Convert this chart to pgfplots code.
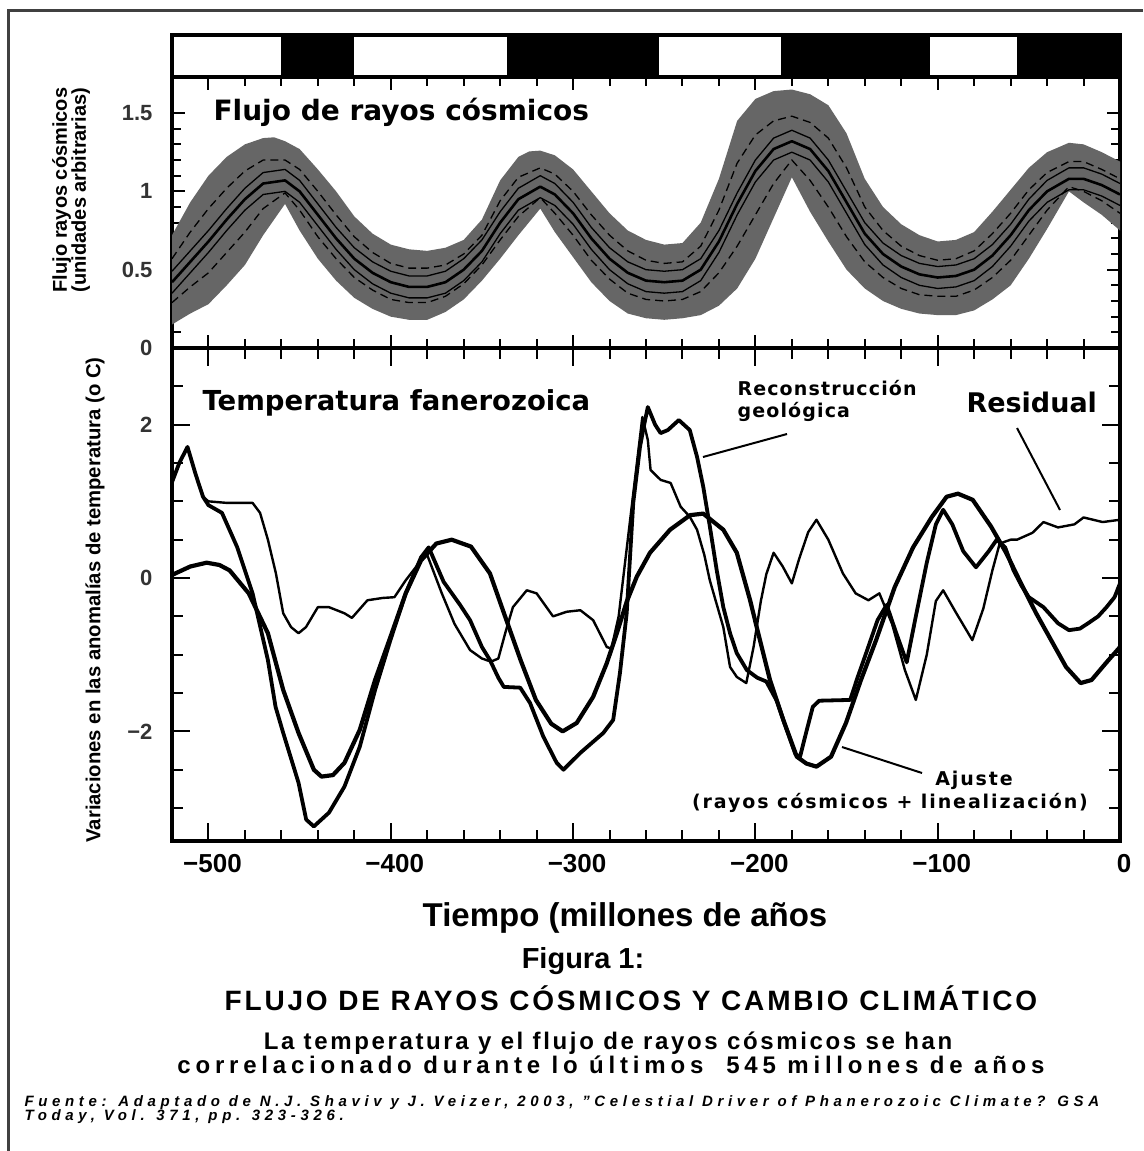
\documentclass[border=0pt]{standalone}
\usepackage{pgfplots}
\pgfplotsset{compat=1.18}
\usepackage{pgfplotstable}
\usepackage{graphicx}
\usepackage{fontspec}
\setmainfont{Liberation Sans}
\newfontfamily\dv{DejaVu Sans}

\pgfplotstableread{
t c c1 c2 d1 d2
-520 0.42 0.49 0.35 0.57 0.29
-510 0.55 0.62 0.48 0.74 0.39
-500 0.68 0.75 0.61 0.89 0.48
-490 0.82 0.89 0.75 1.02 0.61
-480 0.95 1.02 0.88 1.13 0.74
-470 1.05 1.12 0.98 1.20 0.89
-458 1.07 1.14 1.00 1.20 0.99
-450 1.00 1.07 0.93 1.14 0.88
-440 0.85 0.92 0.78 1.00 0.71
-430 0.70 0.77 0.63 0.85 0.57
-420 0.57 0.64 0.50 0.71 0.45
-410 0.48 0.55 0.41 0.61 0.37
-400 0.42 0.49 0.35 0.54 0.31
-390 0.39 0.46 0.32 0.51 0.29
-380 0.39 0.46 0.32 0.51 0.29
-370 0.42 0.49 0.35 0.53 0.33
-360 0.50 0.57 0.43 0.60 0.41
-350 0.62 0.69 0.55 0.72 0.53
-340 0.80 0.87 0.73 0.94 0.69
-330 0.95 1.02 0.88 1.09 0.84
-318 1.03 1.10 0.96 1.15 0.96
-310 0.98 1.05 0.91 1.11 0.86
-300 0.86 0.93 0.79 1.00 0.72
-290 0.70 0.77 0.63 0.85 0.56
-280 0.57 0.64 0.50 0.72 0.44
-270 0.48 0.55 0.41 0.62 0.35
-260 0.43 0.50 0.36 0.56 0.31
-250 0.42 0.49 0.35 0.54 0.30
-240 0.43 0.50 0.36 0.55 0.31
-230 0.50 0.57 0.43 0.65 0.36
-220 0.68 0.75 0.61 0.88 0.48
-210 0.92 0.99 0.85 1.18 0.65
-200 1.13 1.20 1.06 1.36 0.85
-190 1.27 1.34 1.20 1.45 1.05
-180 1.32 1.39 1.25 1.48 1.20
-170 1.27 1.34 1.20 1.44 1.07
-160 1.13 1.20 1.06 1.34 0.90
-150 0.93 1.00 0.86 1.15 0.71
-140 0.73 0.80 0.66 0.90 0.55
-130 0.60 0.67 0.53 0.75 0.45
-120 0.52 0.59 0.45 0.65 0.38
-110 0.47 0.54 0.40 0.59 0.34
-100 0.45 0.52 0.38 0.56 0.33
-90 0.46 0.53 0.39 0.57 0.33
-80 0.50 0.57 0.43 0.62 0.37
-70 0.59 0.66 0.52 0.73 0.45
-60 0.72 0.79 0.65 0.86 0.56
-50 0.88 0.95 0.81 1.01 0.72
-40 1.00 1.07 0.93 1.12 0.88
-28 1.08 1.15 1.01 1.19 1.03
-20 1.08 1.15 1.01 1.19 1.00
-10 1.04 1.11 0.97 1.14 0.94
0 0.98 1.05 0.91 1.08 0.86
}\band

\pgfplotsset{
  panel/.style={scale only axis, width=948pt, xmin=-520, xmax=0,
    axis line style={line width=3.5pt},
    every tick/.style={black, line width=2pt},
    tick align=inside,
    xtick={-500,-400,-300,-200,-100,0}, minor x tick num=4,
    /pgf/number format/assume math mode=true,
    yticklabel style={font=\fontsize{22}{22}\selectfont\bfseries, text=black!80, xshift=-16pt}},
}

\begin{document}
\begin{tikzpicture}
\fill[white] (0,0) rectangle (1143pt,-1151pt);
\draw[black!75, line width=3pt] (8pt,-1151pt) -- (8pt,-10pt) -- (1143pt,-10pt);

% band of black/white periods
\begin{axis}[at={(172pt,-35pt)}, anchor=north west, scale only axis,
  width=948pt, height=42pt, xmin=-520, xmax=0, ymin=0, ymax=1,
  ticks=none, axis line style={line width=3.5pt}]
\addplot[fill=black, draw=none] coordinates {(-460.2,1) (-420.2,1)} \closedcycle;
\addplot[fill=black, draw=none] coordinates {(-336.2,1) (-253.1,1)} \closedcycle;
\addplot[fill=black, draw=none] coordinates {(-186.2,1) (-104.2,1)} \closedcycle;
\addplot[fill=black, draw=none] coordinates {(-56.5,1) (0,1)} \closedcycle;
\end{axis}

% cosmic ray flux
\begin{axis}[panel, at={(172pt,-77pt)}, anchor=north west, height=271pt,
  ymin=0, ymax=1.73, ytick={0,0.5,1,1.5}, yticklabels={0,0.5,1,1.5},
  minor y tick num=4, yticklabel pos=left, xticklabels={},
  major tick length=13pt, minor tick length=9pt]
% uncertainty band: upper edge, then lower edge back
\addplot[fill=black!60, draw=none] coordinates {
(-520,0.72) (-510,0.93) (-500,1.10) (-490,1.22) (-480,1.30) (-470,1.34) (-464,1.345) (-458,1.32)
(-450,1.27) (-440,1.14) (-430,1.00) (-420,0.84) (-410,0.73) (-400,0.66) (-390,0.63)
(-380,0.62) (-370,0.64) (-360,0.69) (-350,0.82) (-340,1.07) (-330,1.22) (-324,1.255) (-318,1.26)
(-310,1.23) (-300,1.14) (-290,1.00) (-280,0.86) (-270,0.75) (-260,0.69) (-250,0.66)
(-240,0.67) (-230,0.80) (-220,1.08) (-210,1.45) (-200,1.59) (-190,1.64) (-180,1.65)
(-170,1.62) (-160,1.55) (-150,1.37) (-140,1.08) (-130,0.90) (-120,0.79) (-110,0.72)
(-100,0.68) (-90,0.69) (-80,0.74) (-70,0.87) (-60,1.01) (-50,1.15) (-40,1.25)
(-28,1.31) (-20,1.30) (-10,1.25) (0,1.19)
(0,0.75) (-10,0.85) (-20,0.93) (-28,1.00) (-40,0.76) (-50,0.57) (-60,0.40) (-70,0.31)
(-80,0.24) (-90,0.21) (-100,0.21) (-110,0.22) (-120,0.25) (-130,0.30) (-140,0.38)
(-150,0.50) (-160,0.68) (-170,0.87) (-180,1.09) (-190,0.83) (-200,0.57) (-210,0.38)
(-220,0.27) (-230,0.21) (-240,0.19) (-250,0.18) (-260,0.19) (-270,0.22) (-280,0.30)
(-290,0.42) (-300,0.58) (-310,0.74) (-318,0.89) (-330,0.72) (-340,0.57) (-350,0.43)
(-360,0.31) (-370,0.23) (-380,0.18) (-390,0.18) (-400,0.20) (-410,0.25) (-420,0.32)
(-430,0.43) (-440,0.57) (-450,0.75) (-458,0.92) (-470,0.72) (-480,0.53) (-490,0.40)
(-500,0.28) (-510,0.22) (-520,0.15)} -- cycle;
\addplot[black, line width=2.6pt, line join=round] table[x=t,y=c]{\band};
\addplot[black, line width=1.3pt, line join=round] table[x=t,y=c1]{\band};
\addplot[black, line width=1.3pt, line join=round] table[x=t,y=c2]{\band};
\addplot[black, line width=1.3pt, dash pattern=on 8pt off 5pt] table[x=t,y=d1]{\band};
\addplot[black, line width=1.3pt, dash pattern=on 8pt off 5pt] table[x=t,y=d2]{\band};
\end{axis}

% temperature
\begin{axis}[panel, at={(172pt,-348pt)}, anchor=north west, height=493pt,
  ymin=-3.43, ymax=3, ytick={-2,0,2}, yticklabels={−2,0,2},
  minor ytick={-3,-2.5,...,2.5}, yticklabel pos=left,
  xticklabels={−500,−400,−300,−200,−100,0},
  xticklabel style={font=\fontsize{26}{26}\selectfont\bfseries, yshift=-10pt, xshift=4pt},
  major tick length=18pt, minor tick length=11pt]
% fit (cosmic rays + linear)
\addplot[black, line width=4.2pt, line join=round] coordinates {
(-520,0.04) (-510,0.15) (-501,0.2) (-494,0.17) (-488.4,0.1) (-477.9,-0.2) (-467.4,-0.72)
(-459,-1.46) (-450.6,-2.02) (-442.2,-2.5) (-438,-2.59) (-431.7,-2.57) (-425.4,-2.41)
(-417,-1.98) (-408.6,-1.33) (-400.2,-0.77) (-391.8,-0.2) (-383.4,0.23) (-375,0.45)
(-366.6,0.5) (-356,0.41) (-345.6,0.06) (-337.3,-0.5) (-328.8,-1.07) (-320.4,-1.59)
(-312,-1.9) (-305.7,-2.0) (-298,-1.89) (-289,-1.55) (-281.5,-1.11) (-276,-0.72)
(-270.6,-0.31) (-265,0.02) (-257.8,0.33) (-246.8,0.63) (-235.8,0.82) (-228.6,0.84)
(-217.6,0.63) (-210.2,0.33) (-202.9,-0.29) (-197.5,-0.81) (-192,-1.33) (-184.7,-1.85)
(-177.3,-2.33) (-172,-2.42) (-166.5,-2.46)
(-158.5,-2.33) (-150.3,-1.89) (-142.1,-1.33) (-133.8,-0.81) (-123.6,-0.12) (-113.5,0.4)
(-103.1,0.8) (-95.1,1.06) (-88.9,1.1) (-80.8,1.02) (-70.7,0.67) (-62.5,0.33)
(-54.3,-0.07) (-46,-0.46) (-37.8,-0.81) (-29.6,-1.16) (-21.6,-1.37) (-15.6,-1.33)
(-7.4,-1.1) (0,-0.9)};
% geological reconstruction
\addplot[black, line width=3.8pt, line join=round] coordinates {
(-520,1.25) (-516,1.5) (-511.5,1.71) (-507,1.35) (-503,1.06) (-500,0.95) (-492.6,0.85)
(-484.2,0.4) (-475.8,-0.2) (-467.4,-1.07) (-463.2,-1.68) (-459,-2.02) (-450.6,-2.67)
(-446.4,-3.15) (-442.2,-3.24) (-433.9,-3.06) (-425.4,-2.72) (-417,-2.2) (-408.6,-1.46)
(-400.2,-0.81) (-391.8,-0.2) (-383.4,0.27) (-379.2,0.4) (-371,-0.05) (-362,-0.35)
(-356.5,-0.55) (-350,-0.9) (-345.6,-1.07) (-341,-1.3) (-338,-1.42) (-329,-1.43)
(-323.6,-1.63) (-316.3,-2.07) (-309,-2.41) (-305.3,-2.5) (-296,-2.28) (-283.4,-2.02)
(-278,-1.85) (-274.3,-1.24) (-270.6,-0.46) (-267,0.98) (-263.3,1.71) (-261,2.0)
(-259,2.23) (-255,2.0) (-252,1.89)
(-248,1.93) (-242,2.06) (-236,1.93) (-232,1.58) (-228.6,1.19) (-224.9,0.66) (-221.2,0.1)
(-217.6,-0.38) (-213.9,-0.72) (-210.2,-0.98) (-204.7,-1.2) (-199,-1.3) (-194,-1.35)
(-188.3,-1.6) (-182.8,-1.98) (-178,-2.3) (-175.5,-2.33) (-172,-2.0) (-168.5,-1.68) (-165,-1.6) (-148,-1.59) (-144,-1.3)
(-140,-1.03) (-133,-0.55) (-128,-0.35) (-123,-0.7) (-117,-1.1) (-112,-0.5) (-106,0.2)
(-101,0.7) (-97,0.89) (-92,0.7) (-86,0.35) (-79,0.14) (-72,0.35) (-67.6,0.5) (-63,0.4)
(-58.4,0.1) (-54,-0.1) (-50,-0.25) (-42,-0.38) (-34,-0.59) (-28,-0.68) (-22,-0.66)
(-17.5,-0.59) (-12,-0.5) (-7.4,-0.38) (-3,-0.25) (0,-0.07)};
% residual
\addplot[black, line width=2.4pt, line join=round] coordinates {
(-520,1.25) (-516,1.5) (-511.5,1.71) (-507,1.35) (-503,1.06) (-500,1.0) (-490,0.98)
(-480,0.98) (-475.8,0.98) (-471.7,0.85) (-467.4,0.5) (-463,0.06) (-459,-0.46)
(-454.7,-0.64) (-450.6,-0.72) (-446.5,-0.64) (-440,-0.38) (-433.9,-0.38) (-425.4,-0.46)
(-421.3,-0.52) (-412.8,-0.29) (-404.4,-0.26) (-398,-0.25) (-391.8,-0.03) (-383.4,0.23)
(-380,0.3) (-372,-0.2) (-365,-0.6) (-356.5,-0.94) (-350,-1.05) (-345,-1.09) (-341,-1.05)
(-337,-0.7) (-333,-0.38) (-325.4,-0.16) (-320,-0.2) (-311,-0.5) (-303.5,-0.44)
(-296,-0.42) (-289,-0.55) (-281.5,-0.9) (-279,-0.92) (-275,-0.5) (-271,0.3) (-267,1.1)
(-264,1.7) (-262,2.1) (-259,1.8) (-257.5,1.41) (-252,1.28) (-246.5,1.24) (-241,0.93)
(-236,0.8) (-232,0.63) (-228,0.3) (-225,-0.03) (-217.6,-0.64) (-213.9,-1.16)
(-210.2,-1.29) (-205,-1.37) (-201,-0.9) (-197,-0.3) (-194,0.05) (-190,0.33) (-185,0.15)
(-180,-0.07) (-176,0.25) (-171,0.6)
(-166.5,0.76) (-160,0.5) (-152,0.06) (-145,-0.2) (-138,-0.29) (-132,-0.2) (-125,-0.6)
(-118,-1.2) (-112,-1.59) (-106,-1.0) (-101,-0.3) (-97,-0.16) (-90,-0.45) (-81,-0.81)
(-75,-0.4) (-70,0.1) (-66,0.45) (-60,0.5) (-56.5,0.5) (-48,0.59) (-42,0.73) (-34,0.66)
(-25,0.7) (-20,0.79) (-9.5,0.73) (0,0.76)};
\end{axis}

% panel labels
\node[anchor=base west, font=\dv\bfseries\fontsize{28}{28}\selectfont] at (210pt,-120pt) {Flujo de rayos cósmicos};
\node[anchor=base west, font=\dv\bfseries\fontsize{27.5}{28}\selectfont] at (199pt,-410pt) {Temperatura fanerozoica};
\node[anchor=base west, font=\dv\bfseries\fontsize{27}{27}\selectfont] at (963pt,-412pt) {Residual};
\node[anchor=base west, font=\dv\bfseries\fontsize{19}{19}\selectfont\addfontfeatures{LetterSpace=6}] at (734pt,-395pt) {Reconstrucción};
\node[anchor=base west, font=\dv\bfseries\fontsize{19}{19}\selectfont\addfontfeatures{LetterSpace=6}] at (734pt,-417pt) {geológica};
\node[anchor=base, font=\dv\bfseries\fontsize{19}{19}\selectfont\addfontfeatures{LetterSpace=10}] at (974pt,-785pt) {Ajuste};
\node[anchor=base, font=\dv\bfseries\fontsize{19}{19}\selectfont\addfontfeatures{LetterSpace=10}] at (890pt,-808pt) {(rayos cósmicos + linealización)};
% pointers
\draw[line width=2pt] (703pt,-457pt) -- (787pt,-434pt);
\draw[line width=2pt] (1017pt,-428pt) -- (1060pt,-510pt);
\draw[line width=2pt] (842pt,-747pt) -- (922pt,-773pt);

% axis titles
\node[rotate=90, align=center, font=\bfseries\fontsize{20}{19}\selectfont] at (71pt,-190pt) {Flujo rayos cósmicos\\(unidades arbitrarias)};
\node[rotate=90, font=\bfseries\fontsize{20.3}{20}\selectfont] at (95pt,-600pt) {Variaciones en las anomalías de temperatura (o C)};

% texts below
\node[anchor=base, font=\bfseries\fontsize{33}{33}\selectfont] at (625pt,-926pt) {Tiempo (millones de años};
\node[anchor=base, font=\bfseries\fontsize{29}{29}\selectfont] at (583pt,-968pt) {Figura 1:};
\node[anchor=base, font=\bfseries\fontsize{28}{28}\selectfont\addfontfeatures{LetterSpace=10}] at (631pt,-1010pt) {FLUJO DE RAYOS CÓSMICOS Y CAMBIO CLIMÁTICO};
\node[anchor=base, font=\bfseries\fontsize{24}{24}\selectfont\addfontfeatures{LetterSpace=11}] at (608pt,-1049pt) {La temperatura y el flujo de rayos cósmicos se han};
\node[anchor=base, font=\bfseries\fontsize{24}{24}\selectfont\addfontfeatures{LetterSpace=20}] at (611pt,-1073pt) {correlacionado durante lo últimos\ \ 545 millones de años};
\node[anchor=base west, font=\bfseries\itshape\fontsize{15}{15}\selectfont\addfontfeatures{LetterSpace=31}] at (21pt,-1106pt) {Fuente: Adaptado de N.J. Shaviv y J. Veizer, 2003, "Celestial Driver of Phanerozoic Climate? GSA};
\node[anchor=base west, font=\bfseries\itshape\fontsize{15}{15}\selectfont\addfontfeatures{LetterSpace=31}] at (21pt,-1120pt) {Today, Vol. 371, pp. 323-326.};
\pgfresetboundingbox
\useasboundingbox (0,0) rectangle (1143pt,-1151pt);
\end{tikzpicture}
\end{document}
